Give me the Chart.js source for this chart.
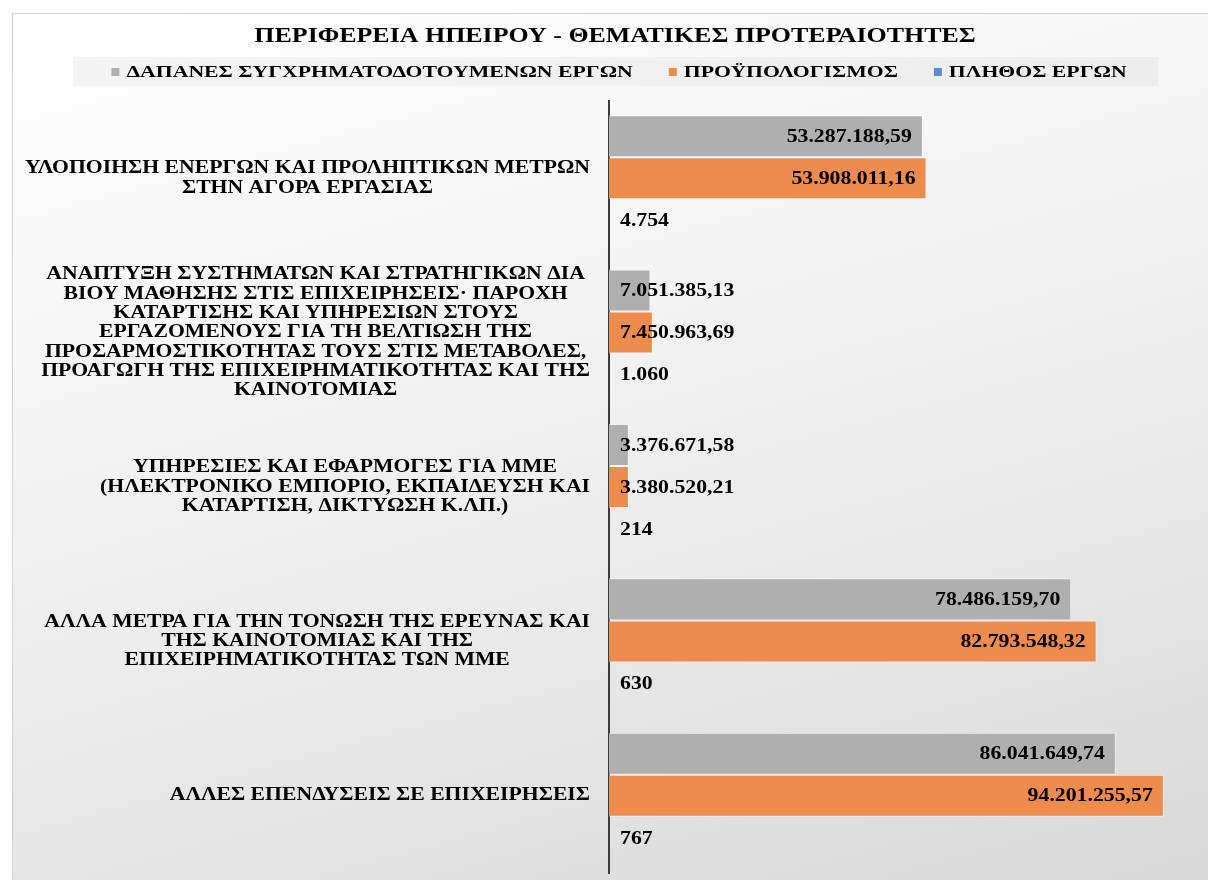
<!DOCTYPE html>
<html lang="el">
<head>
<meta charset="utf-8">
<title>Περιφέρεια Ηπείρου</title>
<script src="https://cdn.jsdelivr.net/npm/chart.js@4.4.1/dist/chart.umd.min.js"></script>
<style>
  html, body { margin: 0; padding: 0; width: 1208px; height: 880px; background: #fff; overflow: hidden; }
  #frame {
    position: absolute; left: 12px; top: 13px;
    width: 1196px; height: 867px;
    border-top: 1px solid #d2d2d2; border-left: 1px solid #d2d2d2;
    background: linear-gradient(165deg, #ffffff 0%, #f6f6f6 30%, #e9e9e9 65%, #d8d8d8 100%);
  }
  canvas { display: block; }
</style>
</head>
<body>
<div id="frame"><canvas id="themeChart" width="1196" height="866"></canvas></div>
<script>
const chartTitle = 'ΠΕΡΙΦΕΡΕΙΑ ΗΠΕΙΡΟΥ - ΘΕΜΑΤΙΚΕΣ ΠΡΟΤΕΡΑΙΟΤΗΤΕΣ';

const categories = [
  ['ΥΛΟΠΟΙΗΣΗ ΕΝΕΡΓΩΝ ΚΑΙ ΠΡΟΛΗΠΤΙΚΩΝ ΜΕΤΡΩΝ', 'ΣΤΗΝ ΑΓΟΡΑ ΕΡΓΑΣΙΑΣ'],
  ['ΑΝΑΠΤΥΞΗ ΣΥΣΤΗΜΑΤΩΝ ΚΑΙ ΣΤΡΑΤΗΓΙΚΩΝ ΔΙΑ', 'ΒΙΟΥ ΜΑΘΗΣΗΣ ΣΤΙΣ ΕΠΙΧΕΙΡΗΣΕΙΣ· ΠΑΡΟΧΗ',
   'ΚΑΤΑΡΤΙΣΗΣ ΚΑΙ ΥΠΗΡΕΣΙΩΝ ΣΤΟΥΣ', 'ΕΡΓΑΖΟΜΕΝΟΥΣ ΓΙΑ ΤΗ ΒΕΛΤΙΩΣΗ ΤΗΣ',
   'ΠΡΟΣΑΡΜΟΣΤΙΚΟΤΗΤΑΣ ΤΟΥΣ ΣΤΙΣ ΜΕΤΑΒΟΛΕΣ,', 'ΠΡΟΑΓΩΓΗ ΤΗΣ ΕΠΙΧΕΙΡΗΜΑΤΙΚΟΤΗΤΑΣ ΚΑΙ ΤΗΣ',
   'ΚΑΙΝΟΤΟΜΙΑΣ'],
  ['ΥΠΗΡΕΣΙΕΣ ΚΑΙ ΕΦΑΡΜΟΓΕΣ ΓΙΑ ΜΜΕ', '(ΗΛΕΚΤΡΟΝΙΚΟ ΕΜΠΟΡΙΟ, ΕΚΠΑΙΔΕΥΣΗ ΚΑΙ',
   'ΚΑΤΑΡΤΙΣΗ, ΔΙΚΤΥΩΣΗ Κ.ΛΠ.)'],
  ['ΑΛΛΑ ΜΕΤΡΑ ΓΙΑ ΤΗΝ ΤΟΝΩΣΗ ΤΗΣ ΕΡΕΥΝΑΣ ΚΑΙ', 'ΤΗΣ ΚΑΙΝΟΤΟΜΙΑΣ ΚΑΙ ΤΗΣ',
   'ΕΠΙΧΕΙΡΗΜΑΤΙΚΟΤΗΤΑΣ ΤΩΝ ΜΜΕ'],
  ['ΑΛΛΕΣ ΕΠΕΝΔΥΣΕΙΣ ΣΕ ΕΠΙΧΕΙΡΗΣΕΙΣ']
];

const seriesNames = ['ΔΑΠΑΝΕΣ ΣΥΓΧΡΗΜΑΤΟΔΟΤΟΥΜΕΝΩΝ ΕΡΓΩΝ', 'ΠΡΟΫΠΟΛΟΓΙΣΜΟΣ', 'ΠΛΗΘΟΣ ΕΡΓΩΝ'];
const spending = [53287188.59, 7051385.13, 3376671.58, 78486159.70, 86041649.74];
const budget = [53908011.16, 7450963.69, 3380520.21, 82793548.32, 94201255.57];
const projectCount = [4754, 1060, 214, 630, 767];
const seriesDecimals = [2, 2, 0];
const seriesColors = ['#afafaf', '#ed8c4c', '#5b8ad6'];

const SERIF = "'Liberation Serif', 'Times New Roman', serif";
const CENTRE_X = 602;

// 53287188.59 -> "53.287.188,59"
function formatGreek(value, decimals) {
  const parts = value.toFixed(decimals).split('.');
  const intPart = parts[0].replace(/\B(?=(\d{3})+(?!\d))/g, '.');
  return parts.length > 1 ? intPart + ',' + parts[1] : intPart;
}

// Times drawn a little wider than normal, as in the office export
function wideText(ctx, text, x, y, align, sx) {
  const w = ctx.measureText(text).width * sx;
  const left = align === 'center' ? x - w / 2 : align === 'right' ? x - w : x;
  ctx.save();
  ctx.translate(left, y);
  ctx.scale(sx, 1);
  ctx.textAlign = 'left';
  ctx.fillText(text, 0, 0);
  ctx.restore();
  return w;
}

const headerPlugin = {
  id: 'header',
  afterDraw(chart) {
    const ctx = chart.ctx;
    ctx.save();
    ctx.fillStyle = '#000';
    ctx.textBaseline = 'middle';
    ctx.font = 'bold 21px ' + SERIF;
    wideText(ctx, chartTitle, CENTRE_X, 23, 'center', 1.235);

    // legend band
    ctx.fillStyle = 'rgba(0,0,0,0.035)';
    ctx.fillRect(CENTRE_X - 542, 43, 1085, 29);

    const sx = 1.28;
    ctx.font = 'bold 17px ' + SERIF;
    const box = 8, gap = 7, spacing = 36;
    const widths = seriesNames.map(n => ctx.measureText(n).width * sx);
    const total = widths.reduce((a, b) => a + b, 0) + seriesNames.length * (box + gap) + spacing * (seriesNames.length - 1);
    let x = CENTRE_X + 4 - total / 2;
    const y = 58;
    seriesNames.forEach((name, i) => {
      ctx.fillStyle = seriesColors[i];
      ctx.fillRect(x, y - box / 2, box, box);
      x += box + gap;
      ctx.fillStyle = '#000';
      wideText(ctx, name, x, y + 1, 'left', sx);
      x += widths[i] + spacing;
    });
    ctx.restore();
  }
};

const categoryLabels = {
  id: 'categoryLabels',
  afterDraw(chart) {
    const ctx = chart.ctx;
    const yScale = chart.scales.y;
    const rightEdge = chart.chartArea.left - 19;
    const lineH = 19.3;
    const sx = 1.206;
    ctx.save();
    ctx.font = 'bold 18px ' + SERIF;
    ctx.fillStyle = '#000';
    ctx.textBaseline = 'middle';
    categories.forEach((lines, i) => {
      const yc = yScale.getPixelForTick(i);
      const blockW = Math.max(...lines.map(l => ctx.measureText(l).width * sx));
      const cx = rightEdge - blockW / 2;
      const y0 = yc - (lines.length - 1) * lineH / 2;
      lines.forEach((line, j) => wideText(ctx, line, cx, y0 + j * lineH, 'center', sx));
    });
    ctx.restore();
  }
};

const valueLabels = {
  id: 'valueLabels',
  afterDatasetsDraw(chart) {
    const ctx = chart.ctx;
    const pad = 11;
    const sx = 1.21;
    ctx.save();
    ctx.font = 'bold 18px ' + SERIF;
    ctx.fillStyle = '#000';
    ctx.textBaseline = 'middle';
    chart.data.datasets.forEach((ds, di) => {
      chart.getDatasetMeta(di).data.forEach((bar, i) => {
        const text = formatGreek(ds.data[i], seriesDecimals[di]);
        const w = ctx.measureText(text).width * sx;
        if (bar.x - bar.base - 2 * pad >= w) {
          wideText(ctx, text, bar.x - pad, bar.y + 1, 'right', sx);
        } else {
          wideText(ctx, text, bar.base + pad, bar.y + 1, 'left', sx);
        }
      });
    });
    ctx.restore();
  }
};

const datasets = [spending, budget, projectCount].map((values, i) => ({
  label: seriesNames[i],
  data: values,
  backgroundColor: seriesColors[i],
  borderColor: 'rgba(255,255,255,0.55)',
  borderWidth: 1,
  categoryPercentage: 0.817,
  barPercentage: 1
}));

new Chart(document.getElementById('themeChart'), {
  type: 'bar',
  data: { labels: categories.map(l => l.join(' ')), datasets },
  plugins: [headerPlugin, categoryLabels, valueLabels],
  options: {
    indexAxis: 'y',
    responsive: false,
    animation: false,
    devicePixelRatio: 1,
    layout: { padding: { top: 87, bottom: 7, left: 0, right: 11 } },
    plugins: {
      legend: { display: false },
      title: { display: false },
      tooltip: { enabled: false }
    },
    scales: {
      x: { display: false, min: 0, max: 100000000 },
      y: {
        ticks: { display: false },
        grid: { display: false },
        border: { display: true, color: '#3c3c3c', width: 2 },
        afterFit(scale) { scale.width = 596; }
      }
    }
  }
});
</script>
</body>
</html>
